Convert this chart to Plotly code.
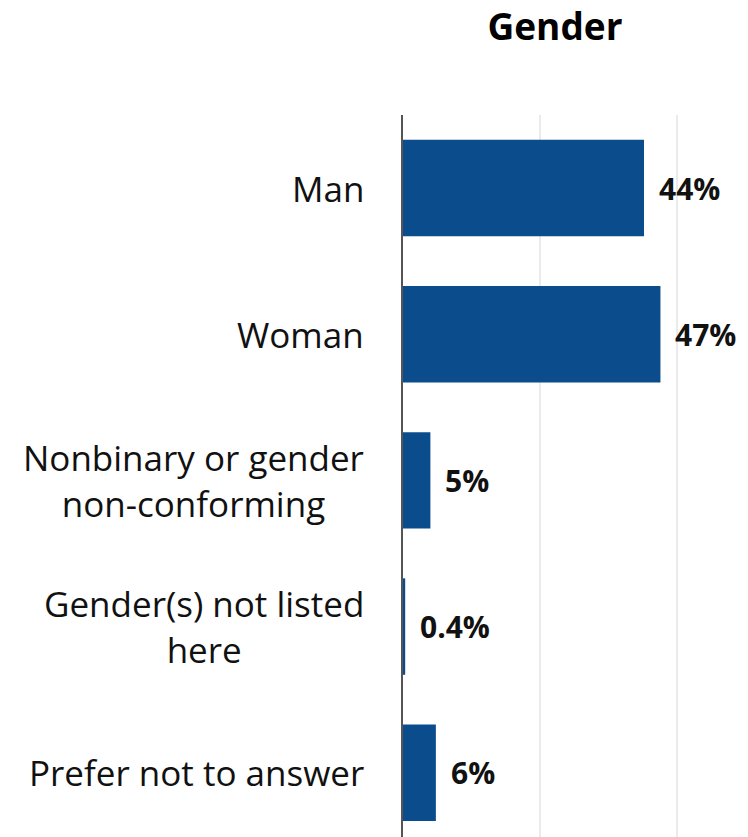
import plotly.graph_objects as go

# Survey responses by gender (share of respondents)
categories = ["Man", "Woman", "Nonbinary or gender<br>non-conforming",
              "Gender(s) not listed<br>here", "Prefer not to answer"]
shares = [0.44, 0.47, 0.05, 0.004, 0.06]
value_labels = ["44%", "47%", "5%", "0.4%", "6%"]

BAR_COLOR = "#0a4c8c"
FONT = "Open Sans"

fig = go.Figure(
    go.Bar(
        x=shares,
        y=categories,
        orientation="h",
        width=0.66,
        marker=dict(color=BAR_COLOR, line=dict(width=0)),
        hoverinfo="skip",
    )
)

# value labels just past the end of each bar
for v, c, t in zip(shares, categories, value_labels):
    fig.add_annotation(
        x=v, y=c, text=f"<b>{t}</b>", showarrow=False,
        xanchor="left", yanchor="middle", xshift=13,
        font=dict(family=FONT, size=30, color="#111111"),
    )

# category labels, centre-aligned blocks sitting left of the axis
for c in categories:
    fig.add_annotation(
        x=0, y=c, text=c, showarrow=False,
        xanchor="right", yanchor="middle", align="center", xshift=-37,
        font=dict(family=FONT, size=35, color="#111111"),
    )

fig.update_layout(
    width=748, height=837,
    margin=dict(l=403, r=41, t=115, b=0),
    paper_bgcolor="white", plot_bgcolor="white",
    showlegend=False,
    title=dict(
        text="<b>Gender</b>", x=0.5, xref="paper", xanchor="center",
        y=1 - 27 / 837, yref="container", yanchor="middle",
        font=dict(family=FONT, size=37, color="#000000"),
    ),
    font=dict(family=FONT),
)

fig.update_xaxes(
    range=[0, 0.555], dtick=0.25, showgrid=True, gridcolor="#ebebeb",
    gridwidth=1.5, showticklabels=False, zeroline=False, showline=False,
    fixedrange=True,
)
fig.update_yaxes(
    categoryorder="array", categoryarray=categories,
    range=[4.44, -0.5], showline=True, linecolor="#555555", linewidth=2,
    showgrid=False, ticks="", showticklabels=False,
    fixedrange=True,
)

fig.write_html("out.html")
